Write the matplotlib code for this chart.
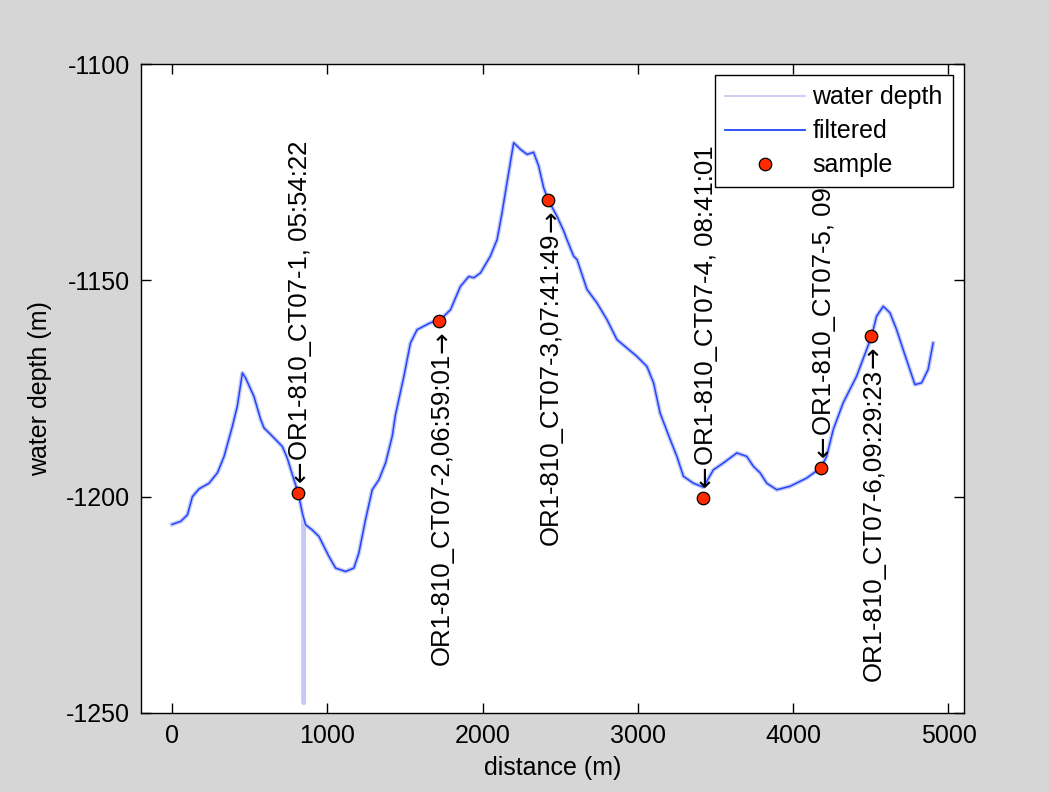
import matplotlib
matplotlib.use("Agg")
import matplotlib.pyplot as plt
from matplotlib.lines import Line2D

# ---- data ----
filt_x = [0, 56, 99, 131, 174, 238, 292, 335, 388, 420, 453, 474, 527, 571, 592,
          656, 710, 742, 785, 813, 839, 860, 903, 946, 1010, 1053, 1117, 1171, 1203,
          1246, 1289, 1332, 1375, 1418, 1439, 1493, 1535, 1578, 1664, 1722, 1793,
          1857, 1911, 1943, 1986, 2050, 2093, 2125, 2157, 2200, 2243, 2286, 2328,
          2361, 2393, 2423, 2479, 2521, 2543, 2586, 2608, 2672, 2736, 2801, 2865,
          2994, 3058, 3101, 3143, 3208, 3251, 3293, 3358, 3422, 3486, 3551, 3637,
          3701, 3744, 3787, 3830, 3894, 3980, 4087, 4179, 4215, 4258, 4322, 4408,
          4473, 4505, 4537, 4580, 4623, 4666, 4708, 4751, 4784, 4827, 4869, 4901]
filt_y = [-1206.4, -1205.7, -1204.2, -1200.0, -1198.2, -1196.9, -1194.5, -1190.7,
          -1183.8, -1179.1, -1171.4, -1172.6, -1176.8, -1182.2, -1184.1, -1186.4,
          -1188.4, -1191.1, -1196.1, -1199.2, -1203.8, -1206.5, -1207.7, -1209.2,
          -1213.8, -1216.5, -1217.3, -1216.5, -1213.0, -1205.3, -1198.4, -1196.1,
          -1192.2, -1186.0, -1181.0, -1172.2, -1164.5, -1161.4, -1159.8, -1159.3,
          -1156.8, -1151.4, -1149.1, -1149.4, -1148.3, -1144.4, -1140.6, -1134.4,
          -1127.4, -1118.2, -1119.7, -1120.9, -1120.4, -1123.6, -1128.6, -1131.5,
          -1135.2, -1138.5, -1140.6, -1144.4, -1145.2, -1152.1, -1155.2, -1159.1,
          -1163.7, -1167.6, -1169.9, -1173.7, -1180.7, -1186.8, -1190.7, -1195.3,
          -1196.9, -1197.8, -1193.8, -1192.2, -1189.9, -1190.7, -1193.0, -1194.5,
          -1196.9, -1198.4, -1197.6, -1195.7, -1193.3, -1190.7, -1184.5, -1178.3,
          -1172.2, -1166.0, -1162.9, -1158.3, -1156.0, -1157.5, -1161.4, -1166.0,
          -1170.6, -1174.1, -1173.7, -1170.6, -1164.5]

# raw water depth: same track plus the single outlier near 850 m
raw_x = filt_x[:21] + [847, 848, 849] + filt_x[21:]
raw_y = filt_y[:21] + [-1205.3, -1247.7, -1205.5] + filt_y[21:]

sample_x = [808, 1722, 2423, 3420, 4179, 4501]
sample_y = [-1199.1, -1159.3, -1131.5, -1200.2, -1193.3, -1162.9]
sample_labels = ["OR1-810_CT07-1, 05:54:22",
                 "OR1-810_CT07-2,06:59:01",
                 "OR1-810_CT07-3,07:41:49",
                 "OR1-810_CT07-4, 08:41:01",
                 "OR1-810_CT07-5, 09",
                 "OR1-810_CT07-6,09:29:23"]
label_above = [True, False, False, True, True, False]

xticks = [0, 1000, 2000, 3000, 4000, 5000]
yticks = [-1250, -1200, -1150, -1100]

# ---- style ----
FS = 18
FS_ANN = 18.5
plt.rcParams['font.family'] = ['Liberation Sans', 'DejaVu Sans']
plt.rcParams['font.size'] = FS
plt.rcParams['axes.unicode_minus'] = False

fig = plt.figure(figsize=(10.49, 7.92), dpi=100, facecolor='#d6d6d6')
ax = fig.add_axes([141/1049, 1-713/792, (964-141)/1049, (713-64)/792])
ax.set_facecolor('white')

RAW_C = '#c6caf3'
FIL_C = '#1f45ff'
ax.plot(raw_x, raw_y, color=RAW_C, lw=3.1, solid_joinstyle='round', zorder=2)
ax.plot(filt_x, filt_y, color=FIL_C, lw=1.1, zorder=3)
ax.plot(sample_x, sample_y, 'o', ms=9, mfc='#ff2a00', mec='black', mew=0.9,
        zorder=4)

GAP = 7.5    # points between marker centre and arrow
ARW = 15.8   # arrow glyph length in points
for x, y, t, up in zip(sample_x, sample_y, sample_labels, label_above):
    sgn = 1 if up else -1
    va = 'bottom' if up else 'top'
    arrow = '\u2190' if up else '\u2192'
    ax.annotate(arrow, xy=(x, y), xytext=(2.5, sgn * GAP),
                textcoords='offset points', rotation=90, ha='center', va=va,
                fontsize=FS_ANN, family=['DejaVu Sans'], zorder=3)
    ax.annotate(t, xy=(x, y), xytext=(2, sgn * (GAP + ARW)),
                textcoords='offset points', rotation=90, ha='center', va=va,
                fontsize=FS_ANN, zorder=3)

ax.set_xlim(-200, 5100)
ax.set_ylim(-1250, -1100)
ax.set_xticks(xticks)
ax.set_yticks(yticks)
ax.tick_params(direction='in', length=7, width=1, top=True, right=True,
               labelsize=FS, pad=8)
for s in ax.spines.values():
    s.set_linewidth(1.0)

ax.set_xlabel('distance (m)', fontsize=FS, labelpad=6)
ax.set_ylabel('water depth (m)', fontsize=FS, labelpad=10)

handles = [Line2D([], [], color=RAW_C, lw=1.3),
           Line2D([], [], color=FIL_C, lw=1.3),
           Line2D([], [], ls='none', marker='o', ms=9, mfc='#ff2a00',
                  mec='black', mew=0.9)]
leg = ax.legend(handles, ['water depth', 'filtered', 'sample'],
                loc='upper right', fontsize=FS, fancybox=False, framealpha=1,
                edgecolor='black', borderaxespad=0.45, handlelength=3.2,
                handletextpad=0.3, labelspacing=0.4, borderpad=0.4)
leg.get_frame().set_linewidth(1.0)
leg.set_zorder(10)

fig.savefig('out.png', dpi=100, facecolor=fig.get_facecolor())
